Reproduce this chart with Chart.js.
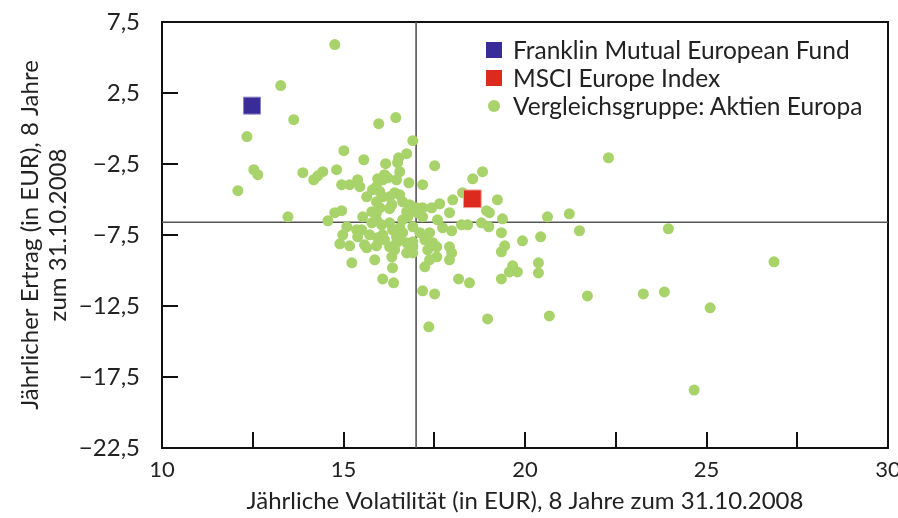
<!DOCTYPE html>
<html lang="de">
<head>
<meta charset="utf-8">
<title>Volatilität und Ertrag</title>
<script src="https://cdn.jsdelivr.net/npm/chart.js@4.4.1/dist/chart.umd.min.js"></script>
<style>
  html, body { margin: 0; padding: 0; background: #fff; }
  #wrap { position: relative; width: 898px; height: 518px; }
  #legend {
    position: absolute; left: 486px; top: 36px;
    font-family: Lato, "Noto Sans", sans-serif; font-size: 24.5px; color: #222;
    line-height: 28px;
  }
  #legend div { display: flex; align-items: center; white-space: nowrap; }
  #legend span.m { display: inline-block; width: 16px; height: 16px; margin-right: 11px; }
  #legend span.c { width: 12px; height: 12px; border-radius: 50%; margin: 0 13px 0 2px; }
</style>
</head>
<body>
<div id="wrap">
  <canvas id="chart"></canvas>
  <div id="legend"></div>
</div>
<script>
// Vergleichsgruppe: Volatilität (x) und Ertrag (y)
const peerVol = [
  14.76, 13.27, 13.63, 12.34, 12.53, 12.64, 12.09, 13.47, 13.88, 14.18,
  14.29, 14.43, 14.81, 15.01, 15.56, 15.97, 16.44, 16.91, 16.74, 16.52,
  16.49, 16.16, 17.51, 17.18, 16.80, 16.55, 16.46, 14.95, 15.17, 15.39,
  15.45, 15.64, 15.91, 16.08, 14.76, 14.95, 14.57, 15.53, 17.65, 17.43,
  18.56, 18.83, 18.28, 19.24, 18.01, 18.94, 19.02, 17.92, 19.38, 20.62,
  21.22, 21.50, 23.95, 18.25, 18.42, 18.80, 19.00, 17.98, 19.35, 19.93,
  20.43, 19.44, 19.35, 17.92, 17.98, 17.92, 26.86, 20.37, 20.37, 19.66,
  19.57, 19.79, 18.17, 18.47, 19.35, 21.72, 23.26, 23.84, 25.10, 18.97,
  20.67, 24.66, 22.30, 15.23, 15.86, 16.35, 16.08, 16.38, 17.18, 17.51,
  17.35, 17.57, 17.37, 17.24, 14.90, 15.17, 14.98, 15.09, 15.50, 15.58,
  15.64, 15.94, 15.91, 15.36, 15.39, 15.78, 15.91, 16.05, 16.08, 16.27,
  16.46, 16.55, 16.74, 16.91, 16.74, 16.33, 17.02, 17.18, 16.91, 17.10,
  16.91, 17.24, 17.37, 17.46, 17.32, 16.91, 17.59, 17.73, 15.80, 16.00,
  15.91, 16.08, 16.27, 16.41, 16.55, 16.63, 16.82, 16.33, 16.00, 15.78,
  15.94, 16.13, 16.22, 16.88, 17.02, 17.18, 16.35, 16.55, 16.63, 16.46,
  16.27, 16.63, 16.77, 15.91, 16.27, 16.74, 16.41, 16.13, 15.72, 17.57
];
const peerRet = [
   5.91,  3.02,  0.62, -0.57, -2.90, -3.25, -4.38, -6.22, -3.11, -3.61,
  -3.33, -3.04, -2.90, -1.56, -2.20,  0.34,  0.77, -0.86, -1.77, -2.06,
  -2.41, -2.48, -2.62, -3.96, -3.82, -3.04, -3.61, -3.96, -3.96, -3.61,
  -4.10, -4.81, -4.10, -3.61, -5.93, -5.79, -6.50, -6.22, -5.30, -5.58,
  -3.54, -3.04, -4.52, -5.02, -5.02, -5.79, -5.93, -5.93, -6.36, -6.22,
  -6.01, -7.20, -7.06, -6.78, -6.78, -6.64, -6.92, -7.20, -7.34, -7.91,
  -7.63, -8.26, -8.68, -8.33, -8.76, -9.25, -9.39, -9.46, -10.17, -9.67,
  -10.10, -10.10, -10.59, -10.87, -10.59, -11.79, -11.65, -11.51, -12.63, -13.41,
  -13.20, -18.42, -2.06, -9.46, -9.25, -9.81, -10.59, -10.87, -11.43, -11.65,
  -13.97, -9.04, -9.25, -9.74, -8.12, -8.26, -7.49, -6.92, -7.13, -8.19,
  -8.40, -7.70, -8.26, -7.13, -7.63, -6.64, -6.43, -6.78, -7.49, -8.33,
  -8.05, -7.84, -8.05, -8.33, -8.76, -9.04, -5.93, -6.22, -6.92, -7.34,
  -7.98, -7.84, -7.34, -8.05, -8.54, -8.76, -6.43, -6.99, -4.31, -4.45,
  -5.16, -4.81, -4.81, -4.52, -4.67, -5.16, -5.37, -5.37, -5.58, -5.86,
  -3.54, -3.25, -3.47, -5.51, -5.58, -5.58, -7.13, -6.99, -7.34, -7.63,
  -6.64, -6.43, -6.22, -5.93, -5.65, -5.86, -8.54, -7.84, -7.49, -8.33
];

const fundVol = [12.48];
const fundRet = [1.61];
const indexVol = [18.55];
const indexRet = [-4.95];

// Mittelwert-Linien der Vergleichsgruppe
const medianVol = 17.0;
const medianRet = -6.6;

const xMin = 10, xMax = 30;
const yMin = -22.5, yMax = 7.5;
const xTickValues = [10, 15, 20, 25, 30];
const xTickLabels = ['10', '15', '20', '25', '30'];
const xTickMarks = [12.5, 15, 17.5, 20, 22.5, 25, 27.5];
const yTickValues = [-22.5, -17.5, -12.5, -7.5, -2.5, 2.5, 7.5];
const yTickLabels = ['−22,5', '−17,5', '−12,5', '−7,5', '−2,5', '2,5', '7,5'];
const yTickMarks = [-17.5, -12.5, -7.5, -2.5, 2.5];

const seriesNames = ['Franklin Mutual European Fund', 'MSCI Europe Index', 'Vergleichsgruppe: Aktien Europa'];
const colors = { fund: '#3a2c98', index: '#dc2a1e', peer: '#a8d36a', ref: '#555', text: '#222' };

const FONT = 'Lato, "Noto Sans", sans-serif';
const FS = 24;

function pts(xs, ys) {
  return xs.map((v, i) => ({ x: v, y: ys[i] }));
}

// Rahmen und nach innen zeigende Teilstriche
const framePlugin = {
  id: 'frame',
  beforeDatasetsDraw(chart) {
    const { ctx, chartArea: a, scales: { x, y } } = chart;
    const len = 16;
    ctx.save();
    ctx.strokeStyle = '#111';
    ctx.lineWidth = 2;
    ctx.strokeRect(a.left, a.top, a.right - a.left, a.bottom - a.top);
    ctx.beginPath();
    xTickMarks.forEach(v => {
      const px = Math.round(x.getPixelForValue(v));
      ctx.moveTo(px, a.bottom);
      ctx.lineTo(px, a.bottom - len);
    });
    yTickMarks.forEach(v => {
      const py = Math.round(y.getPixelForValue(v));
      ctx.moveTo(a.left, py);
      ctx.lineTo(a.left + len, py);
    });
    ctx.stroke();
    ctx.restore();
  }
};

new Chart(document.getElementById('chart'), {
  type: 'scatter',
  data: {
    datasets: [
      {
        label: seriesNames[0],
        data: pts(fundVol, fundRet),
        pointStyle: 'rect',
        pointRadius: 12,
        backgroundColor: colors.fund,
        borderColor: '#8c84c8',
        borderWidth: 1,
        order: 1
      },
      {
        label: seriesNames[1],
        data: pts(indexVol, indexRet),
        pointStyle: 'rect',
        pointRadius: 12.5,
        backgroundColor: colors.index,
        borderColor: '#f0a090',
        borderWidth: 1,
        order: 2
      },
      {
        label: seriesNames[2],
        data: pts(peerVol, peerRet),
        pointStyle: 'circle',
        pointRadius: 5.5,
        backgroundColor: colors.peer,
        borderWidth: 0,
        order: 3
      },
      {
        type: 'line',
        label: 'vol',
        data: [{ x: medianVol, y: yMin }, { x: medianVol, y: yMax }],
        borderColor: colors.ref,
        borderWidth: 1.6,
        pointRadius: 0,
        order: 10
      },
      {
        type: 'line',
        label: 'ret',
        data: [{ x: xMin, y: medianRet }, { x: xMax, y: medianRet }],
        borderColor: colors.ref,
        borderWidth: 1.6,
        pointRadius: 0,
        order: 10
      }
    ]
  },
  options: {
    responsive: true,
    maintainAspectRatio: false,
    animation: false,
    layout: { autoPadding: false, padding: { top: 22, right: 10, left: 0, bottom: 0 } },
    plugins: {
      legend: { display: false },
      tooltip: { enabled: false }
    },
    scales: {
      x: {
        type: 'linear',
        min: xMin,
        max: xMax,
        afterBuildTicks: s => { s.ticks = xTickValues.map(v => ({ value: v })); },
        afterFit: s => { s.height = 70; s.paddingRight = 0; },
        grid: { display: false },
        border: { display: false },
        ticks: {
          padding: 1,
          color: colors.text,
          font: { family: FONT, size: 22 },
          callback: v => xTickLabels[xTickValues.indexOf(v)]
        },
        title: {
          display: true,
          text: 'Jährliche Volatilität (in EUR), 8 Jahre zum 31.10.2008',
          color: colors.text,
          font: { family: FONT, size: FS },
          padding: { top: 0, bottom: 2 }
        }
      },
      y: {
        type: 'linear',
        min: yMin,
        max: yMax,
        afterBuildTicks: s => { s.ticks = yTickValues.map(v => ({ value: v })); },
        afterFit: s => { s.width = 162; s.paddingTop = 0; },
        grid: { display: false },
        border: { display: false },
        ticks: {
          padding: 14,
          color: colors.text,
          font: { family: FONT, size: FS },
          callback: v => yTickLabels[yTickValues.indexOf(v)]
        },
        title: {
          display: true,
          text: ['Jährlicher Ertrag (in EUR), 8 Jahre', 'zum 31.10.2008'],
          color: colors.text,
          font: { family: FONT, size: FS, lineHeight: 1.17 },
          padding: { top: 16, bottom: 0 }
        }
      }
    }
  },
  plugins: [framePlugin]
});

// Legende oben rechts im Diagramm
const legendEl = document.getElementById('legend');
const markers = [
  ['m', colors.fund],
  ['m', colors.index],
  ['m c', colors.peer]
];
seriesNames.forEach((name, i) => {
  const row = document.createElement('div');
  const mk = document.createElement('span');
  mk.className = markers[i][0];
  mk.style.background = markers[i][1];
  row.appendChild(mk);
  row.appendChild(document.createTextNode(name));
  legendEl.appendChild(row);
});
</script>
</body>
</html>
